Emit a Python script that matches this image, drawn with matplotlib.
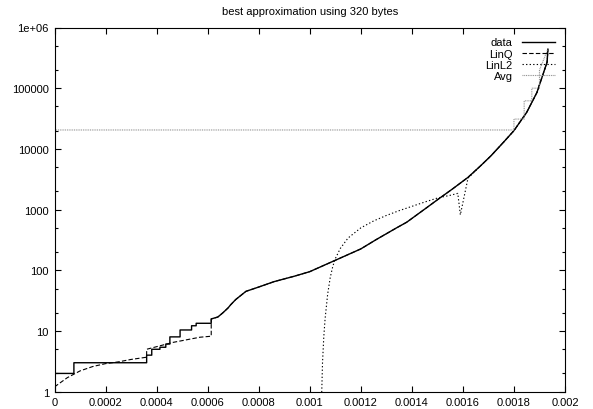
import numpy as np
import matplotlib

matplotlib.use("Agg")
import matplotlib.pyplot as plt
from matplotlib.ticker import LogLocator, NullFormatter, FixedLocator

plt.rcParams["font.family"] = ["Liberation Sans", "DejaVu Sans"]
plt.rcParams["font.size"] = 8

# values
data_x = [0, 0.000076, 0.000076, 0.000361, 0.000361, 0.000381, 0.000381, 0.000413,
          0.000413, 0.000436, 0.000436, 0.000452, 0.000452, 0.000492, 0.000492,
          0.000537, 0.000537, 0.000555, 0.000555, 0.000614, 0.000614, 0.00064,
          0.00066, 0.00068, 0.00069, 0.00071, 0.00075, 0.0008, 0.00086, 0.00094,
          0.001, 0.00109, 0.0012, 0.00126, 0.00134, 0.00138, 0.00146, 0.0015,
          0.00156, 0.00162, 0.00167, 0.00171, 0.00176, 0.0018, 0.00185, 0.00189,
          0.00193, 0.001933]
data_y = [2, 2, 3, 3, 4, 4, 5, 5, 5.4, 5.4, 6.1, 6.1, 8, 8, 10.4, 10.4, 12.2, 12.2,
          13.4, 13.4, 15.8, 17, 20, 24, 27, 33, 45, 53, 65, 80, 95, 140, 225, 320,
          500, 620, 1090, 1450, 2200, 3400, 5300, 7700, 13000, 20000, 40000, 85000,
          270000, 440000]

linq_x = [0, 0.00005, 0.0001, 0.00015, 0.0002, 0.00025, 0.0003, 0.000361, 0.000361,
          0.000465, 0.00057, 0.000614, 0.000614]
linq_y = [1.2, 1.7, 2.2, 2.6, 2.9, 3.1, 3.4, 3.7, 5.0, 6.5, 7.9, 8.2, 15.8]

linl2_x = [0.001043, 0.001047, 0.00105, 0.001055, 0.00106, 0.00107, 0.00108,
           0.00109, 0.0011, 0.00112, 0.00115, 0.0012, 0.00125, 0.0013, 0.00135,
           0.0014, 0.00145, 0.0015, 0.00155, 0.00158, 0.00159, 0.00162]
linl2_y = [0.3, 1, 3, 8, 15.7, 40, 75, 115, 155, 230, 340, 500, 650, 800, 960,
           1130, 1330, 1550, 1720, 1850, 820, 3300]

avg_x = [0, 0.0018, 0.0018, 0.00184, 0.00184, 0.00187, 0.00187, 0.0019, 0.0019,
         0.001933]
avg_y = [20500, 20500, 31000, 31000, 62000, 62000, 100000, 100000, 200000, 440000]

# LinQ and LinL2 follow the data curve past their last breakpoint
dx = np.array(data_x)
dy = np.array(data_y)
linq_x = linq_x + list(dx[dx > 0.000614])
linq_y = linq_y + list(dy[dx > 0.000614])
linl2_x = linl2_x + list(dx[dx > 0.00162])
linl2_y = linl2_y + list(dy[dx > 0.00162])

fig = plt.figure(figsize=(5.93, 4.10), dpi=100)
ax = fig.add_axes([54.5 / 593, 17.3 / 410, 510.5 / 593, 364.2 / 410])

ax.plot(data_x, data_y, color="black", lw=1.0, label="data")
ax.plot(linq_x, linq_y, color="black", lw=0.8, dashes=(4, 2), label="LinQ")
ax.plot(linl2_x, linl2_y, color="black", lw=0.8, dashes=(1.2, 2), label="LinL2")
ax.plot(avg_x, avg_y, color="#888888", lw=0.8, dashes=(0.8, 0.8), label="Avg")

ax.set_yscale("log")
ax.set_xlim(0, 0.002)
ax.set_ylim(1, 1e6)
ax.xaxis.set_major_locator(FixedLocator(np.arange(0, 0.00201, 0.0002)))
ax.set_xticklabels(["0", "0.0002", "0.0004", "0.0006", "0.0008", "0.001", "0.0012",
                    "0.0014", "0.0016", "0.0018", "0.002"])
ax.yaxis.set_major_locator(FixedLocator([1, 10, 100, 1000, 10000, 100000, 1e6]))
ax.set_yticklabels(["1", "10", "100", "1000", "10000", "100000", "1e+06"])
ax.yaxis.set_minor_locator(LogLocator(base=10, subs=(2, 5)))
ax.yaxis.set_minor_formatter(NullFormatter())
ax.tick_params(which="both", direction="in", top=True, right=True, width=0.8)
ax.tick_params(which="major", length=4, pad=4)
ax.tick_params(which="minor", length=2)
for s in ax.spines.values():
    s.set_linewidth(0.8)

ax.set_title("best approximation using 320 bytes", fontsize=8, pad=10)
ax.legend(loc="upper right", frameon=False, markerfirst=False, handlelength=3.0,
          handletextpad=0.8, labelspacing=0.1, borderaxespad=0.5, fontsize=8)

fig.savefig("out.png", dpi=100)
